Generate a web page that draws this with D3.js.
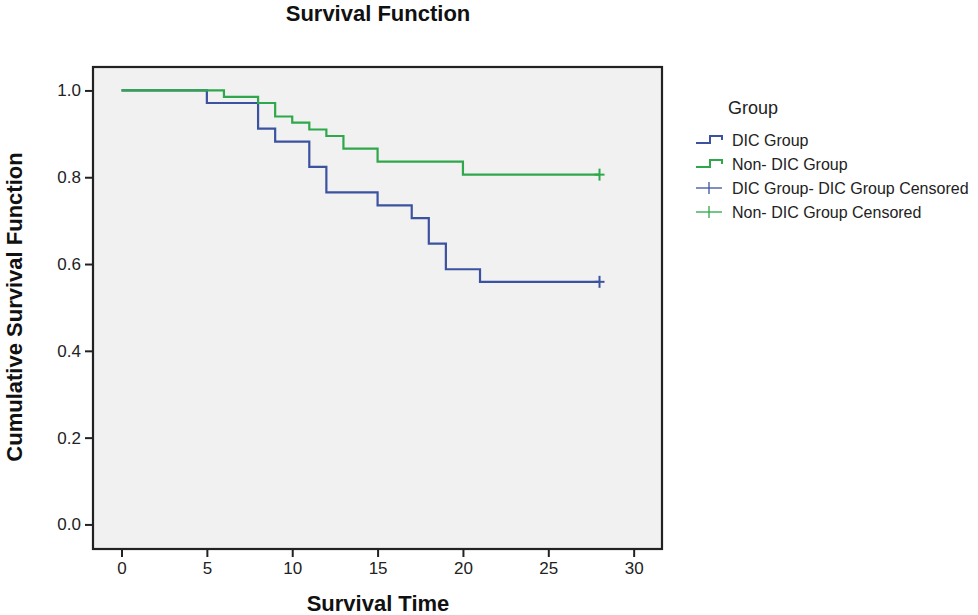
<!DOCTYPE html>
<html>
<head>
<meta charset="utf-8">
<script src="https://cdn.jsdelivr.net/npm/d3@7"></script>
<style>
  html, body { margin: 0; padding: 0; background: #ffffff; }
  svg { display: block; font-family: "Liberation Sans", Arial, sans-serif; }
</style>
</head>
<body>
<svg id="chart" width="978" height="615"></svg>
<script>
// ---- data ----
const dicTimes = [0, 5, 8, 9, 11, 12, 15, 17, 18, 19, 21, 28];
const dicSurv  = [1.0, 0.971, 0.912, 0.882, 0.824, 0.765, 0.735, 0.706, 0.647, 0.588, 0.559, 0.559];
const nonTimes = [0, 6, 8, 9, 10, 11, 12, 13, 15, 20, 28];
const nonSurv  = [1.0, 0.985, 0.971, 0.940, 0.926, 0.910, 0.895, 0.866, 0.836, 0.806, 0.806];
const dicCensored = [28];
const nonCensored = [28];
const xTicks = [0, 5, 10, 15, 20, 25, 30];
const yTicks = [0.0, 0.2, 0.4, 0.6, 0.8, 1.0];
const legendLabels = ["DIC Group", "Non- DIC Group", "DIC Group- DIC Group Censored", "Non- DIC Group Censored"];

const blue = "#3b52a0";
const green = "#2ea84a";

const svg = d3.select("#chart");

const frame = { left: 93, right: 662, top: 67, bottom: 549 };
const x = d3.scaleLinear().domain([-1.67, 31.66]).range([frame.left, frame.right]);
const y = d3.scaleLinear().domain([-0.0566, 1.054]).range([frame.bottom, frame.top]);

// plot background
svg.append("rect")
  .attr("x", frame.left).attr("y", frame.top)
  .attr("width", frame.right - frame.left).attr("height", frame.bottom - frame.top)
  .attr("fill", "#f1f1f1");

// axes
const xAxis = d3.axisBottom(x).tickValues(xTicks).tickSize(8).tickSizeOuter(0).tickPadding(5)
  .tickFormat(d3.format("d"));
const gx = svg.append("g").attr("transform", `translate(0,${frame.bottom})`).call(xAxis);
const yAxis = d3.axisLeft(y).tickValues(yTicks).tickSize(8).tickSizeOuter(0).tickPadding(4)
  .tickFormat(d3.format(".1f"));
const gy = svg.append("g").attr("transform", `translate(${frame.left},0)`).call(yAxis);
[gx, gy].forEach(g => {
  g.select(".domain").remove();
  g.selectAll(".tick line").attr("stroke", "#222").attr("stroke-width", 2);
  g.selectAll(".tick text").attr("fill", "#222").style("font-size", "17px")
    .style("font-family", "'Liberation Sans', Arial, sans-serif");
});

// step lines
const line = d3.line().x(d => x(d[0])).y(d => y(d[1])).curve(d3.curveStepAfter);
const dicData = dicTimes.map((t, i) => [t, dicSurv[i]]);
const nonData = nonTimes.map((t, i) => [t, nonSurv[i]]);

svg.append("path").datum(dicData).attr("d", line)
  .attr("fill", "none").attr("stroke", blue).attr("stroke-width", 2.2);
svg.append("path").datum(nonData).attr("d", line)
  .attr("fill", "none").attr("stroke", green).attr("stroke-width", 2.2);

// censored marks (plus signs)
function survAt(times, surv, t) {
  let v = surv[0];
  times.forEach((tt, i) => { if (tt <= t) v = surv[i]; });
  return v;
}
function drawCensor(times, surv, cens, color) {
  const g = svg.append("g");
  cens.forEach(t => {
    const cx = x(t), cy = y(survAt(times, surv, t));
    g.append("line").attr("x1", cx).attr("x2", cx).attr("y1", cy - 6).attr("y2", cy + 6)
      .attr("stroke", color).attr("stroke-width", 2);
    g.append("line").attr("x1", cx - 5).attr("x2", cx + 5).attr("y1", cy).attr("y2", cy)
      .attr("stroke", color).attr("stroke-width", 2);
  });
}
drawCensor(dicTimes, dicSurv, dicCensored, blue);
drawCensor(nonTimes, nonSurv, nonCensored, green);

// frame
svg.append("rect")
  .attr("x", frame.left).attr("y", frame.top)
  .attr("width", frame.right - frame.left).attr("height", frame.bottom - frame.top)
  .attr("fill", "none").attr("stroke", "#222").attr("stroke-width", 2.2);

// titles
svg.append("text").attr("x", 378).attr("y", 21).attr("text-anchor", "middle")
  .style("font-size", "22px").style("font-weight", "bold").attr("fill", "#111")
  .text("Survival Function");
svg.append("text").attr("x", 378).attr("y", 611).attr("text-anchor", "middle")
  .style("font-size", "22px").style("font-weight", "bold").attr("fill", "#111")
  .text("Survival Time");
svg.append("text").attr("transform", "translate(22,307) rotate(-90)").attr("text-anchor", "middle")
  .style("font-size", "22px").style("font-weight", "bold").attr("fill", "#111")
  .text("Cumulative Survival Function");

// legend
const lg = svg.append("g");
lg.append("text").attr("x", 728).attr("y", 114).style("font-size", "18px").attr("fill", "#222").text("Group");
const rowY = [140, 164, 188, 212];
const colors = [blue, green, blue, green];
legendLabels.forEach((lab, i) => {
  const cy = rowY[i];
  if (i < 2) {
    lg.append("path")
      .attr("d", `M696,${cy + 3}H710V${cy - 4}H722V${cy}`)
      .attr("fill", "none").attr("stroke", colors[i]).attr("stroke-width", 2);
  } else {
    lg.append("line").attr("x1", 696).attr("x2", 722).attr("y1", cy).attr("y2", cy)
      .attr("stroke", colors[i]).attr("stroke-width", 1.3);
    lg.append("line").attr("x1", 709).attr("x2", 709).attr("y1", cy - 6).attr("y2", cy + 6)
      .attr("stroke", colors[i]).attr("stroke-width", 1.3);
  }
  lg.append("text").attr("x", 732).attr("y", cy + 6).style("font-size", "16px").attr("fill", "#222").text(lab);
});
</script>
</body>
</html>
